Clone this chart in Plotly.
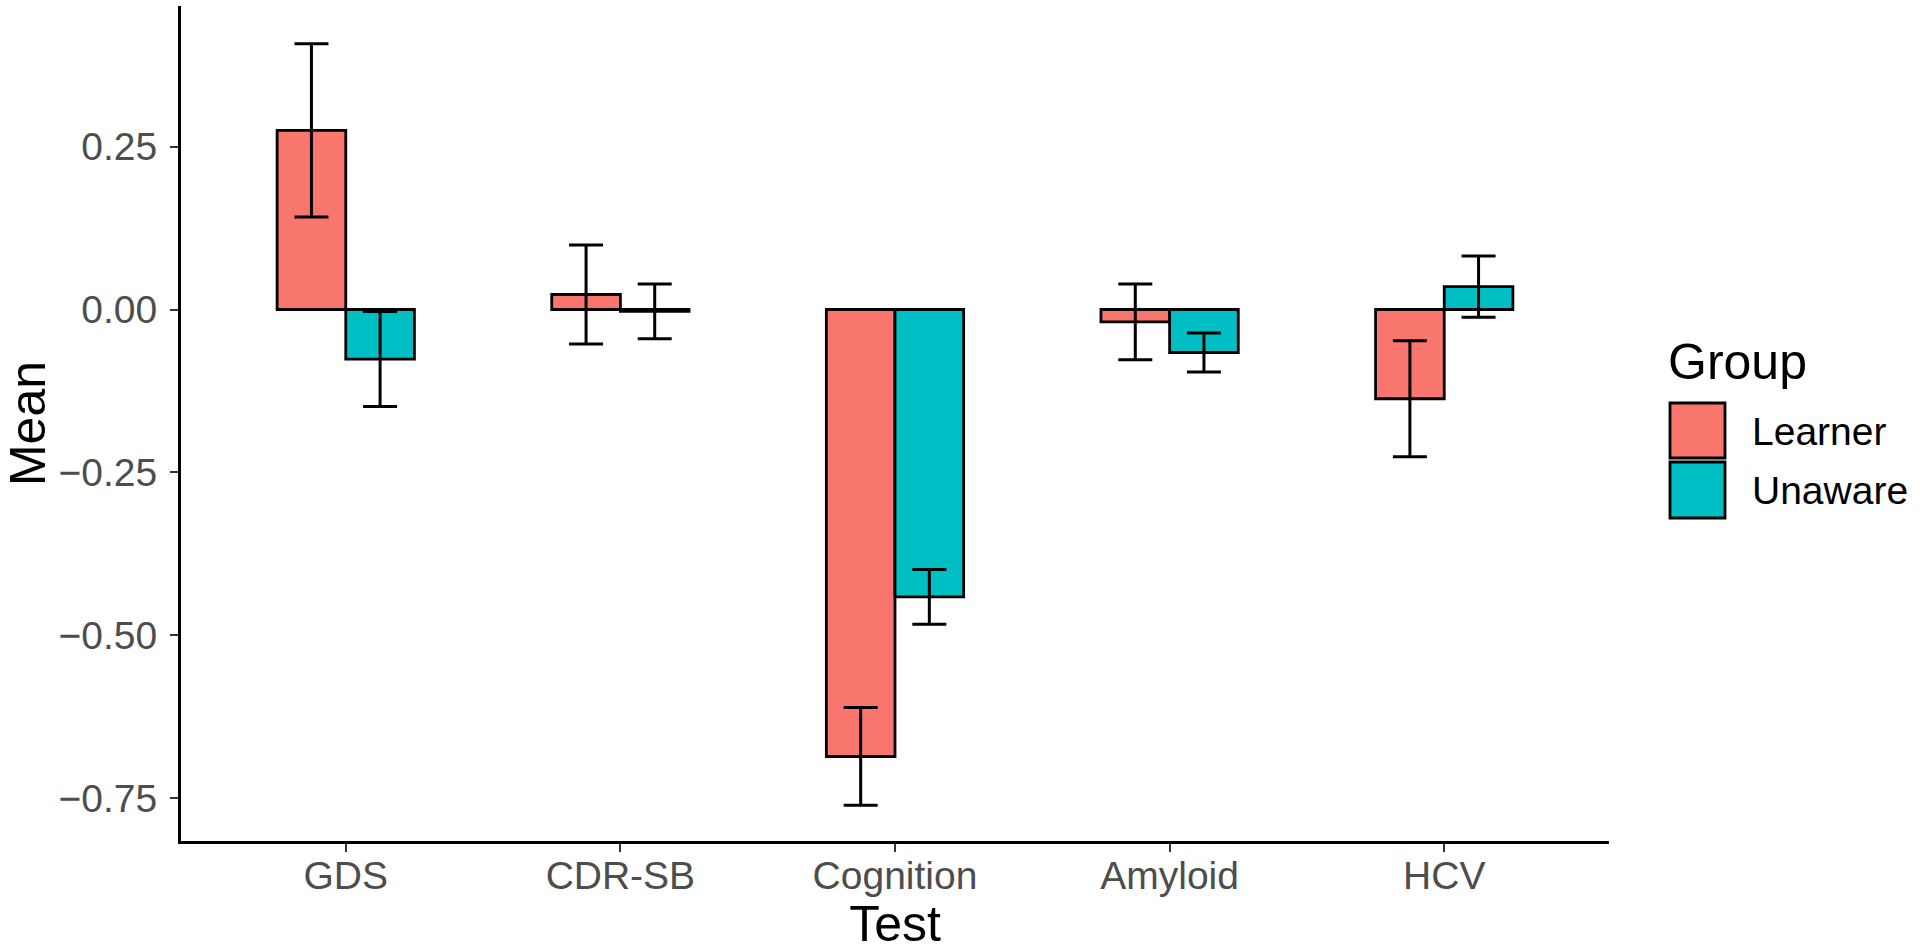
import plotly.graph_objects as go

tests = ["GDS", "CDR-SB", "Cognition", "Amyloid", "HCV"]
groups = ["Learner", "Unaware"]
learner_mean = [0.275, 0.023, -0.686, -0.019, -0.137]
learner_err = [0.133, 0.076, 0.075, 0.058, 0.089]
unaware_mean = [-0.076, -0.003, -0.441, -0.066, 0.035]
unaware_err = [0.073, 0.042, 0.042, 0.030, 0.047]
colors = ["#F8766D", "#00BFC4"]
y_ticks = [0.25, 0.0, -0.25, -0.5, -0.75]

FONT = "Liberation Sans, Arial, Helvetica, sans-serif"

fig = go.Figure()
for name, means, errs, col in [
    (groups[0], learner_mean, learner_err, colors[0]),
    (groups[1], unaware_mean, unaware_err, colors[1]),
]:
    fig.add_trace(go.Bar(
        x=tests, y=means, name=name,
        marker=dict(color=col, line=dict(color="black", width=2.8)),
        error_y=dict(type="data", array=errs, visible=True,
                     color="black", thickness=3, width=17),
        showlegend=False,
    ))

# Legend (drawn manually so the keys match the reference size)
L, T = 181, 6
W, H = 1428, 835
def px(x):
    return (x - L) / W
def py(y):
    return (T + H - y) / H

key_rows = [(403, 458), (462, 518)]
label_y = [431, 490]
for g, col, (y0, y1), ly in zip(groups, colors, key_rows, label_y):
    fig.add_shape(type="rect", xref="paper", yref="paper",
                  x0=px(1670), x1=px(1725), y0=py(y1), y1=py(y0),
                  fillcolor=col, line=dict(color="black", width=2.8))
    fig.add_annotation(text=g, xref="paper", yref="paper",
                       x=px(1750), y=py(ly), xanchor="left", yanchor="middle",
                       showarrow=False, font=dict(family=FONT, size=39, color="black"))
fig.add_annotation(text="Group", xref="paper", yref="paper",
                   x=px(1666), y=py(362), xanchor="left", yanchor="middle",
                   showarrow=False, font=dict(family=FONT, size=50, color="black"))

fig.update_layout(
    width=1920, height=952,
    margin=dict(l=L, r=1920 - L - W, t=T, b=952 - T - H),
    paper_bgcolor="white", plot_bgcolor="white",
    barmode="group", bargap=0.5, bargroupgap=0,
    font=dict(family=FONT),
)
fig.update_xaxes(
    range=[-0.6, 4.6], showline=True, linecolor="black", linewidth=3,
    ticks="outside", ticklen=8, tickwidth=2, tickcolor="#333333",
    tickfont=dict(family=FONT, size=39, color="#4D4D4D"),
    ticklabelstandoff=-10,
    showgrid=False, zeroline=False,
    title=dict(text="Test", font=dict(family=FONT, size=50, color="black"), standoff=19),
    automargin=False,
)
fig.update_yaxes(
    range=[-0.8157, 0.4658], showline=True, linecolor="black", linewidth=3,
    ticks="outside", ticklen=8, tickwidth=2, tickcolor="#333333",
    tickvals=y_ticks, tickformat=".2f",
    tickfont=dict(family=FONT, size=39, color="#4D4D4D"),
    ticklabelstandoff=5,
    showgrid=False, zeroline=False,
    title=dict(text="Mean", font=dict(family=FONT, size=50, color="black"), standoff=14),
    automargin=False,
)

fig.write_html("out.html", config={"displayModeBar": False},
               post_script="document.body.style.margin='0';")
